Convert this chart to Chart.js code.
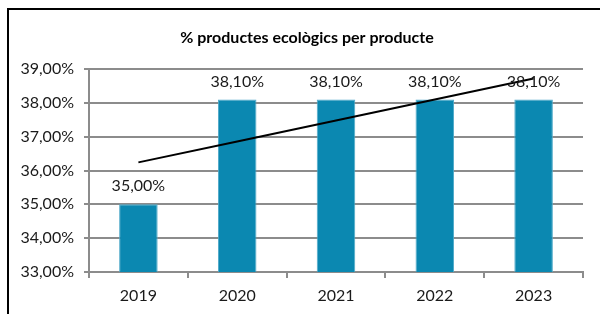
<!DOCTYPE html>
<html>
<head>
<meta charset="utf-8">
<script src="https://cdn.jsdelivr.net/npm/chart.js@4/dist/chart.umd.min.js"></script>
<style>
  body { margin: 0; background: #fff; }
  #wrap { position: relative; width: 600px; height: 314px; overflow: hidden; }
  #frame { position: absolute; left: 7px; top: 8px; width: 620px; height: 330px; border: 2px solid #000; }
  canvas { position: absolute; left: 0; top: 0; }
</style>
</head>
<body>
<div id="wrap">
  <div id="frame"></div>
  <canvas id="ecoChart" width="600" height="314"></canvas>
</div>
<script>
// data
const years = ['2019', '2020', '2021', '2022', '2023'];
const percentEco = [35.0, 38.1, 38.1, 38.1, 38.1];
const trendLine = [36.24, 36.86, 37.48, 38.10, 38.72];
const yTicks = [33, 34, 35, 36, 37, 38, 39];
const chartTitle = '% productes ecològics per producte';

const fmt = v => v.toFixed(2).replace('.', ',') + '%';

// title (centred like the original) and labels above the bars
const barLabels = {
  id: 'barLabels',
  afterDatasetsDraw(chart) {
    const ctx = chart.ctx;
    const meta = chart.getDatasetMeta(0);
    ctx.save();
    ctx.textAlign = 'center';
    ctx.textBaseline = 'middle';
    ctx.fillStyle = '#000';
    ctx.font = 'bold 16px Lato';
    ctx.fillText(chartTitle, 307, 38);
    ctx.font = '16px Lato';
    ctx.fillStyle = '#1a1a1a';
    meta.data.forEach((bar, i) => {
      ctx.fillText(fmt(percentEco[i]), bar.x, bar.y - 18);
    });
    ctx.restore();
  }
};

const ctx = document.getElementById('ecoChart').getContext('2d');
new Chart(ctx, {
  type: 'bar',
  data: {
    labels: years,
    datasets: [
      {
        label: '% productes ecològics',
        data: percentEco,
        backgroundColor: '#0b88b1',
        borderColor: '#4fa9c9',
        borderWidth: 1,
        categoryPercentage: 1,
        barPercentage: 0.39,
        order: 2
      },
      {
        type: 'line',
        label: 'Tendència',
        data: trendLine,
        borderColor: '#000',
        borderWidth: 2,
        pointRadius: 0,
        fill: false,
        order: 1
      }
    ]
  },
  options: {
    responsive: false,
    animation: false,
    layout: { padding: { left: 0, right: 17, top: 69, bottom: 0 } },
    plugins: {
      legend: { display: false },
      tooltip: { enabled: false },
      title: { display: false }
    },
    scales: {
      x: {
        grid: { drawOnChartArea: false, drawTicks: true, tickLength: 6, color: '#8c8c8c', lineWidth: 2 },
        border: { color: '#8c8c8c', width: 2 },
        ticks: { color: '#1a1a1a', font: { family: 'Lato', size: 16 }, padding: 8 },
        afterFit: s => { s.height = 42; }
      },
      y: {
        min: 33,
        max: 39,
        afterBuildTicks: s => { s.ticks = yTicks.map(v => ({ value: v })); },
        grid: { color: '#8c8c8c', lineWidth: 2, tickLength: 5 },
        border: { color: '#8c8c8c', width: 2 },
        ticks: { color: '#1a1a1a', font: { family: 'Lato', size: 16 }, padding: 10, callback: v => fmt(v) },
        afterFit: s => { s.width = 89; }
      }
    }
  },
  plugins: [barLabels]
});
</script>
</body>
</html>
